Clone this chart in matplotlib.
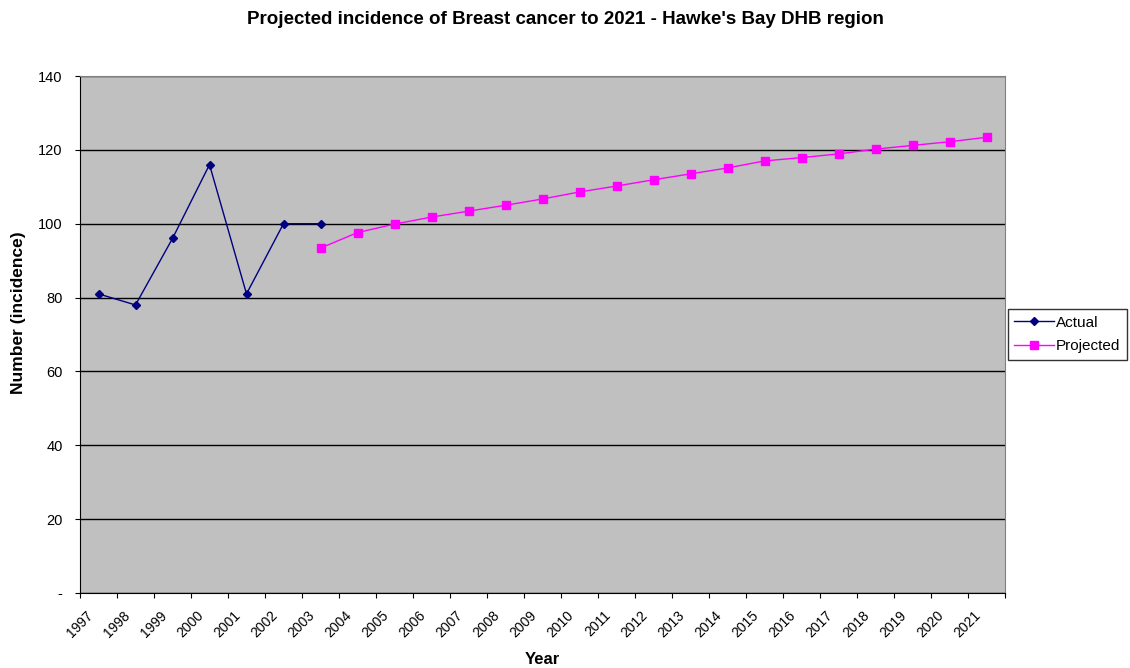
import numpy as np
import matplotlib.pyplot as plt
import matplotlib.transforms as mtransforms

plt.rcParams['font.family'] = ['Liberation Sans', 'DejaVu Sans']

years = [str(y) for y in range(1997, 2022)]
actual_years = ['1997', '1998', '1999', '2000', '2001', '2002', '2003']
actual = [81, 78, 96, 116, 81, 100, 100]
proj_years = [str(y) for y in range(2003, 2022)]
projected = [93.4, 97.6, 99.9, 101.8, 103.4, 105.0, 106.7, 108.6, 110.2, 111.9,
             113.5, 115.1, 117.0, 117.9, 118.9, 120.2, 121.2, 122.2, 123.4]

pos = {y: i + 0.5 for i, y in enumerate(years)}

fig = plt.figure(figsize=(11.3, 6.68), dpi=100)
ax = fig.add_axes([80 / 1130, 1 - 593 / 668, 925 / 1130, 517 / 668])
ax.set_facecolor('#C0C0C0')

ax.plot([pos[y] for y in actual_years], actual, color='#000080', lw=1,
        marker='D', ms=4.5, mfc='#000080', mec='#000080', label='Actual')
ax.plot([pos[y] for y in proj_years], projected, color='#FF00FF', lw=1,
        marker='s', ms=6, mfc='#FF00FF', mec='#FF00FF', label='Projected')

ax.set_xlim(0, len(years))
ax.set_ylim(0, 140)
ax.set_yticks(range(0, 141, 20))
ax.set_yticklabels(['-'] + [str(v) for v in range(20, 141, 20)])
ax.yaxis.grid(True, color='black', lw=1)
ax.set_axisbelow(True)

# tick marks sit on category borders, labels in the middle
ax.set_xticks(np.arange(0, len(years) + 1))
ax.set_xticklabels([])
ax.set_xticks([pos[y] for y in years], minor=True)
ax.set_xticklabels(years, minor=True, rotation=45, ha='right', va='center',
                   rotation_mode='anchor')
ax.tick_params(axis='x', which='major', direction='out', length=3.5, color='black')
ax.tick_params(axis='x', which='minor', length=0, pad=14.5, labelsize=10)
ax.tick_params(axis='y', direction='out', length=3.5, labelsize=10.5, pad=9)
offset = mtransforms.ScaledTranslation(-8 / 100, 0, fig.dpi_scale_trans)
for lbl in ax.xaxis.get_minorticklabels():
    lbl.set_transform(lbl.get_transform() + offset)

for s in ['top', 'right']:
    ax.spines[s].set_color('#808080')
for s in ['left', 'bottom']:
    ax.spines[s].set_color('black')

ax.set_xlabel('Year', fontsize=12, fontweight='bold')
ax.xaxis.set_label_coords(0.5, -0.115)
ax.set_ylabel('Number (incidence)', fontsize=12.5, fontweight='bold')
ax.yaxis.set_label_coords(-0.058, 0.542)
fig.text(0.5, 1 - 20 / 668, "Projected incidence of Breast cancer to 2021 - Hawke's Bay DHB region",
         ha='center', va='center', fontsize=13.5, fontweight='bold')

leg = ax.legend(loc='center left', bbox_to_anchor=(1.0, 0.5), frameon=True,
                fancybox=False, edgecolor='black', fontsize=11, handlelength=2.6,
                borderpad=0.4, labelspacing=0.65, handletextpad=0.15, borderaxespad=0.2)
leg.get_frame().set_linewidth(1)

fig.savefig('out.png', dpi=100)
